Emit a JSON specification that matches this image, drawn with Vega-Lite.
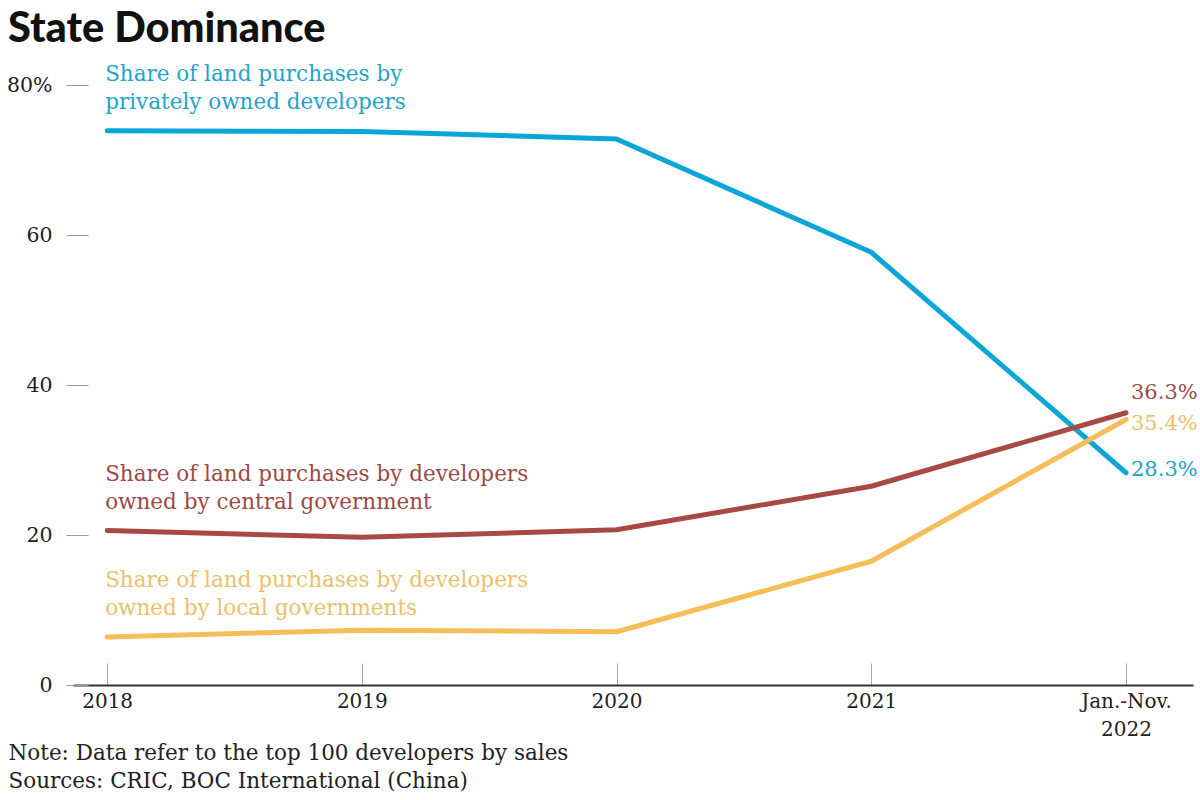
{
  "$schema": "https://vega.github.io/schema/vega-lite/v6.json",
  "width": 1120,
  "height": 600,
  "autosize": {"type": "none"},
  "padding": {"left": 73, "top": 85, "right": 7, "bottom": 115},
  "background": "white",
  "title": {
    "text": "State Dominance",
    "anchor": "start",
    "frame": "group",
    "font": "Lato",
    "fontWeight": 900,
    "fontSize": 41.5,
    "color": "#111111",
    "dx": -65,
    "offset": 13
  },
  "config": {
    "view": {"stroke": null},
    "font": "DejaVu Serif"
  },
  "data": {
    "values": [
      {"year": 2018, "series": "private", "value": 73.9},
      {"year": 2019, "series": "private", "value": 73.8},
      {"year": 2020, "series": "private", "value": 72.8},
      {"year": 2021, "series": "private", "value": 57.7},
      {"year": 2022, "series": "private", "value": 28.3},
      {"year": 2018, "series": "central", "value": 20.6},
      {"year": 2019, "series": "central", "value": 19.7},
      {"year": 2020, "series": "central", "value": 20.7},
      {"year": 2021, "series": "central", "value": 26.5},
      {"year": 2022, "series": "central", "value": 36.3},
      {"year": 2018, "series": "local", "value": 6.4},
      {"year": 2019, "series": "local", "value": 7.3},
      {"year": 2020, "series": "local", "value": 7.1},
      {"year": 2021, "series": "local", "value": 16.5},
      {"year": 2022, "series": "local", "value": 35.4}
    ]
  },
  "encoding": {
    "x": {
      "field": "year",
      "type": "quantitative",
      "scale": {"domain": [2017.866, 2022.263], "nice": false, "zero": false},
      "axis": {
        "values": [2018, 2019, 2020, 2021, 2022],
        "labelExpr": "datum.value == 2022 ? ['Jan.-Nov.', '2022'] : format(datum.value, 'd')",
        "labelFont": "DejaVu Serif",
        "labelFontSize": 20,
        "labelColor": "#222222",
        "labelPadding": 28,
        "labelLineHeight": 28,
        "grid": false,
        "domainColor": "#333333",
        "domainWidth": 2,
        "tickColor": "#aaaaaa",
        "tickWidth": 1,
        "tickSize": -22,
        "title": ["Note: Data refer to the top 100 developers by sales", "Sources: CRIC, BOC International (China)"],
        "titleFont": "DejaVu Serif",
        "titleFontSize": 21.5,
        "titleFontWeight": "normal",
        "titleColor": "#222222",
        "titleAnchor": "start",
        "titleAlign": "left",
        "titleBaseline": "top",
        "titleLineHeight": 28,
        "titleX": -65,
        "titleY": 57
      }
    },
    "y": {
      "field": "value",
      "type": "quantitative",
      "scale": {"domain": [0, 80], "nice": false},
      "axis": {
        "values": [0, 20, 40, 60, 80],
        "labelExpr": "datum.value == 80 ? '80%' : datum.label",
        "labelFont": "DejaVu Serif",
        "labelFontSize": 20.5,
        "labelColor": "#222222",
        "labelPadding": 14,
        "offset": -15,
        "domain": false,
        "grid": false,
        "tickColor": "#999999",
        "tickWidth": 1,
        "tickSize": 22,
        "title": null
      }
    },
    "color": {
      "field": "series",
      "type": "nominal",
      "scale": {"domain": ["private", "central", "local"], "range": ["#0aa6d6", "#a84a44", "#f6bd58"]},
      "legend": null
    }
  },
  "layer": [
    {
      "mark": {"type": "line", "strokeWidth": 5, "strokeCap": "round", "strokeJoin": "round"}
    },
    {
      "transform": [
        {"filter": "datum.year == 2018"},
        {"calculate": "datum.series == 'private' ? ['Share of land purchases by', 'privately owned developers'] : datum.series == 'central' ? ['Share of land purchases by developers', 'owned by central government'] : ['Share of land purchases by developers', 'owned by local governments']", "as": "label"}
      ],
      "mark": {"type": "text", "align": "left", "baseline": "bottom", "dx": -2, "dy": -45, "fontSize": 21.5, "lineHeight": 28, "font": "DejaVu Serif"},
      "encoding": {
        "text": {"field": "label"},
        "color": {"value": null},
        "fill": {
          "field": "series",
          "type": "nominal",
          "scale": {"domain": ["private", "central", "local"], "range": ["#22a4cc", "#9e4a45", "#ecc06c"]},
          "legend": null
        }
      }
    },
    {
      "transform": [
        {"filter": "datum.year == 2022 && datum.series == 'central'"},
        {"calculate": "format(datum.value, '.1f') + '%'", "as": "endLabel"}
      ],
      "mark": {"type": "text", "align": "left", "baseline": "middle", "dx": 5, "dy": -20, "fontSize": 21, "font": "DejaVu Serif", "color": "#9e4a45"},
      "encoding": {"text": {"field": "endLabel"}, "color": {"value": "#9e4a45"}}
    },
    {
      "transform": [
        {"filter": "datum.year == 2022 && datum.series == 'local'"},
        {"calculate": "format(datum.value, '.1f') + '%'", "as": "endLabel"}
      ],
      "mark": {"type": "text", "align": "left", "baseline": "middle", "dx": 5, "dy": 4, "fontSize": 21, "font": "DejaVu Serif"},
      "encoding": {"text": {"field": "endLabel"}, "color": {"value": "#ecc06c"}}
    },
    {
      "transform": [
        {"filter": "datum.year == 2022 && datum.series == 'private'"},
        {"calculate": "format(datum.value, '.1f') + '%'", "as": "endLabel"}
      ],
      "mark": {"type": "text", "align": "left", "baseline": "middle", "dx": 5, "dy": -3, "fontSize": 21, "font": "DejaVu Serif"},
      "encoding": {"text": {"field": "endLabel"}, "color": {"value": "#22a4cc"}}
    }
  ]
}
